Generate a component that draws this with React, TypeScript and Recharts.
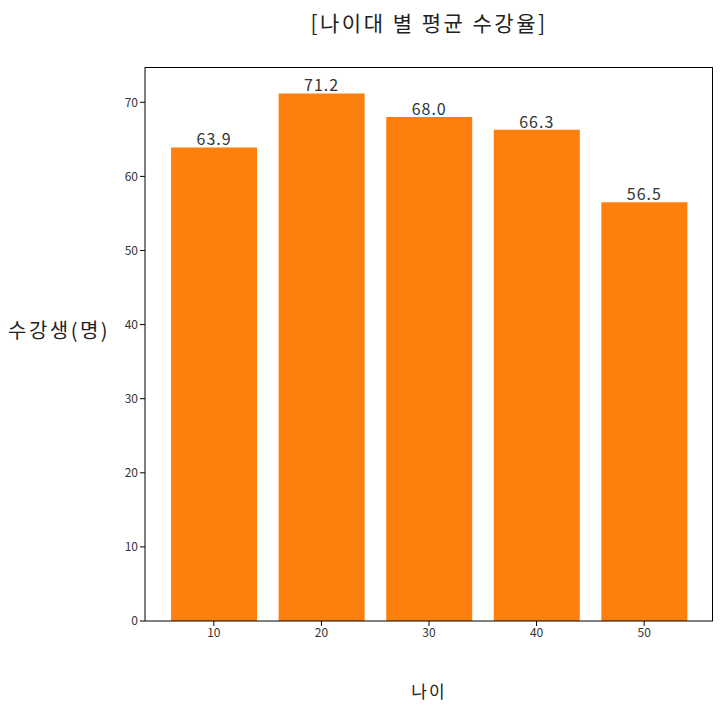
import { BarChart, Bar, XAxis, YAxis, LabelList } from "recharts";

const ages = [10, 20, 30, 40, 50];
const rates = [63.9, 71.2, 68.0, 66.3, 56.5];
const yTicks = [0, 10, 20, 30, 40, 50, 60, 70];

const data = ages.map((age, i) => ({ age, rate: rates[i] }));

const font = "'Noto Sans CJK KR', 'Noto Sans', sans-serif";

export default function App() {
  return (
    <div style={{ position: "relative", width: 716, height: 704, fontFamily: font }}>
      <div
        style={{
          position: "absolute",
          left: 0,
          width: 842,
          top: -1,
          textAlign: "center",
          fontSize: 21,
          letterSpacing: 2.5,
          color: "#222",
        }}
      >
        [나이대 별 평균 수강율]
      </div>
      <div
        style={{
          position: "absolute",
          left: 0,
          top: 307,
          fontSize: 20,
          letterSpacing: 2.5,
          color: "#222",
        }}
      >
        수강생(명)
      </div>
      <div
        style={{
          position: "absolute",
          left: 0,
          width: 842,
          top: 670,
          textAlign: "center",
          fontSize: 17,
          letterSpacing: 2,
          color: "#222",
        }}
      >
        나이
      </div>
      <BarChart
        width={716}
        height={704}
        data={data}
        margin={{ top: 59, right: 11, left: 97, bottom: 61 }}
        style={{ position: "absolute", left: 0, top: 0 }}
      >
        <XAxis
          dataKey="age"
          type="number"
          domain={[3.6, 56.4]}
          ticks={ages}
          height={30}
          tickSize={5}
          stroke="#000"
          tick={{ fill: "#333", fontSize: 12, fontFamily: font }}
        />
        <YAxis
          type="number"
          domain={[0, 74.76]}
          ticks={yTicks}
          width={40}
          tickSize={5}
          stroke="#000"
          tick={{ fill: "#333", fontSize: 12, fontFamily: font }}
        />
        <Bar dataKey="rate" fill="#ff7f0e" barSize={86} isAnimationActive={false}>
          <LabelList
            dataKey="rate"
            position="top"
            offset={2}
            formatter={(v: number) => v.toFixed(1)}
            style={{ fill: "#333", fontSize: 16, letterSpacing: 1, fontFamily: font }}
          />
        </Bar>
      </BarChart>
      {/* top and right spines */}
      <div
        style={{
          position: "absolute",
          left: 137,
          top: 59,
          width: 568,
          height: 554,
          boxSizing: "border-box",
          borderTop: "1px solid #000",
          borderRight: "1px solid #000",
          pointerEvents: "none",
        }}
      />
    </div>
  );
}
